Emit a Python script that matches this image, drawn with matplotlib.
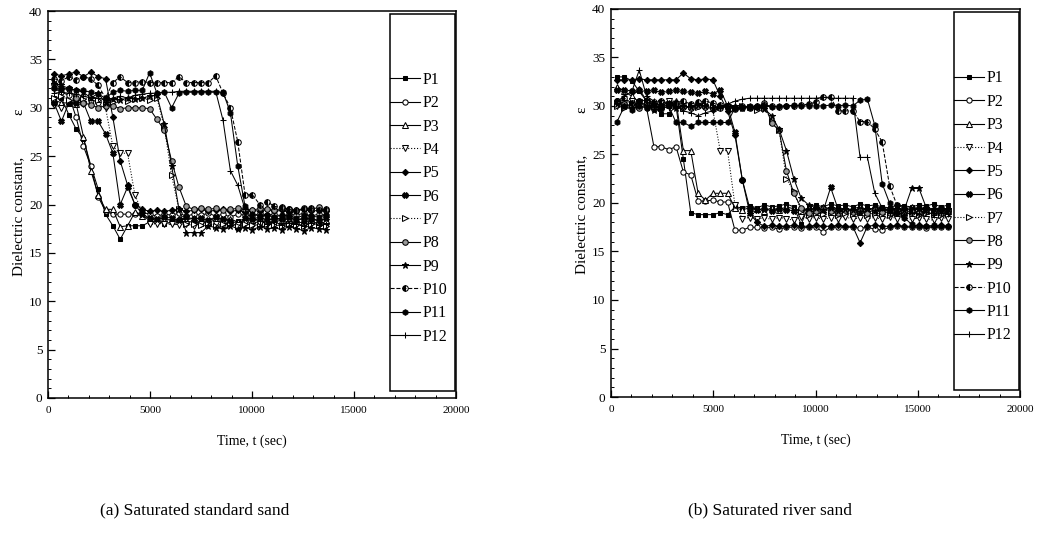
import matplotlib
matplotlib.use("Agg")
import matplotlib.pyplot as plt
from matplotlib.patches import Rectangle
from matplotlib.ticker import MultipleLocator

plt.rcParams['font.family'] = ['Liberation Serif', 'DejaVu Serif']

# ---------------- data ----------------
LABELS = ["P1", "P2", "P3", "P4", "P5", "P6", "P7", "P8", "P9", "P10", "P11", "P12"]

T_A = [300, 660, 1020, 1380, 1740, 2100, 2460, 2820, 3180, 3540,
       3900, 4260, 4620, 4980, 5340, 5700, 6060, 6420, 6780, 7140,
       7500, 7860, 8220, 8580, 8940, 9300, 9660, 10020, 10380, 10740,
       11100, 11460, 11820, 12180, 12540, 12900, 13260, 13620]

T_B = [300, 660, 1020, 1380, 1740, 2100, 2460, 2820, 3180, 3540,
       3900, 4260, 4620, 4980, 5340, 5700, 6060, 6420, 6780, 7140,
       7500, 7860, 8220, 8580, 8940, 9300, 9660, 10020, 10380, 10740,
       11100, 11460, 11820, 12180, 12540, 12900, 13260, 13620, 13980, 14340,
       14700, 15060, 15420, 15780, 16140, 16500]

# (a) Saturated standard sand
a_p1 = [31.0, 31.0, 29.3, 27.8, 26.8, 24.0, 21.6, 19.0, 17.8, 16.4,
        17.8, 17.8, 17.8, 18.2, 18.3, 18.0, 18.2, 18.4, 18.1, 18.3,
        18.0, 18.2, 18.4, 18.1, 18.0, 18.3, 18.2, 18.0, 18.3, 18.1,
        18.2, 18.4, 18.0, 18.2, 18.1, 18.3, 18.0, 18.2]
a_p2 = [32.0, 31.6, 31.3, 29.0, 26.0, 24.0, 20.8, 19.3, 19.0, 19.0,
        19.0, 19.0, 19.2, 19.0, 18.8, 19.0, 18.9, 19.1, 18.8, 19.0,
        18.9, 19.1, 18.8, 19.0, 18.7, 19.0, 18.9, 18.8, 19.1, 18.9,
        19.0, 18.8, 19.0, 18.9, 19.1, 18.8, 19.0, 18.9]
a_p3 = [30.8, 30.5, 30.5, 30.4, 27.0, 23.5, 21.0, 19.5, 19.5, 17.7,
        17.8, 19.2, 18.8, 18.5, 18.4, 18.6, 18.3, 18.5, 18.4, 18.6,
        18.5, 18.3, 18.6, 18.4, 18.5, 18.2, 18.6, 18.4, 18.5, 18.3,
        18.6, 18.4, 18.5, 18.3, 18.6, 18.4, 18.5, 18.4]
a_p4 = [30.3, 30.0, 30.5, 30.6, 30.4, 30.5, 30.3, 30.0, 26.0, 25.3,
        25.3, 21.0, 19.2, 18.0, 18.0, 18.0, 18.0, 17.9, 18.0, 17.8,
        18.0, 17.9, 18.0, 17.8, 18.0, 17.9, 18.1, 17.8, 18.0, 17.9,
        18.0, 17.8, 18.0, 17.9, 17.8, 18.0, 17.9, 17.8]
a_p5 = [33.5, 33.3, 33.5, 33.7, 33.2, 33.7, 33.2, 33.0, 29.0, 24.5,
        22.0, 20.0, 19.5, 19.3, 19.4, 19.3, 19.4, 19.5, 19.3, 19.4,
        19.5, 19.3, 19.4, 19.5, 19.3, 19.4, 19.2, 19.4, 19.3, 19.5,
        19.3, 19.4, 19.2, 19.4, 19.5, 19.3, 19.4, 19.3]
a_p6 = [30.5, 28.6, 30.5, 30.5, 30.5, 28.6, 28.6, 27.3, 25.3, 20.0,
        21.8, 20.0, 19.0, 18.6, 18.5, 18.7, 18.6, 18.4, 18.7, 18.5,
        18.6, 18.4, 18.7, 18.5, 18.3, 17.6, 18.6, 18.5, 18.7, 18.4,
        18.6, 18.5, 18.7, 18.4, 18.6, 18.5, 18.3, 18.6]
a_p7 = [31.0, 31.2, 30.8, 31.0, 30.9, 31.1, 30.8, 30.4, 30.6, 30.9,
        30.7, 30.9, 31.0, 30.8, 31.0, 28.0, 23.0, 19.5, 18.0, 18.0,
        17.9, 18.0, 17.8, 18.0, 17.9, 17.8, 18.0, 17.9, 17.8, 18.0,
        17.9, 17.8, 18.0, 17.9, 17.8, 18.0, 17.9, 17.8]
a_p8 = [32.5, 32.0, 31.9, 31.0, 30.5, 30.3, 30.0, 30.2, 30.2, 29.9,
        30.0, 30.0, 30.0, 29.9, 28.8, 27.7, 24.5, 21.8, 19.8, 19.5,
        19.6, 19.5, 19.6, 19.4, 19.5, 19.6, 19.5, 19.4, 19.6, 19.5,
        19.4, 19.6, 19.5, 19.4, 19.6, 19.5, 19.7, 19.4]
a_p9 = [32.5, 32.3, 32.0, 31.8, 31.6, 31.0, 31.5, 30.5, 30.9, 30.8,
        31.0, 30.9, 31.0, 31.2, 31.3, 28.3, 24.0, 19.5, 17.1, 17.1,
        17.1, 17.8, 17.6, 17.5, 17.8, 17.5, 17.6, 17.4, 17.7, 17.5,
        17.6, 17.4, 17.7, 17.5, 17.3, 17.6, 17.5, 17.4]
a_p10 = [33.0, 32.8, 33.2, 32.9, 33.2, 33.0, 32.3, 31.0, 32.6, 33.2,
         32.6, 32.6, 32.7, 32.6, 32.6, 32.6, 32.6, 33.2, 32.6, 32.6,
         32.6, 32.6, 33.3, 31.5, 30.0, 26.5, 21.0, 21.0, 20.0, 20.3,
         19.8, 19.7, 19.5, 19.3, 19.5, 19.6, 19.4, 19.5]
a_p11 = [32.0, 31.9, 32.0, 31.8, 31.8, 31.6, 31.4, 31.0, 31.6, 31.8,
         31.7, 31.8, 31.8, 33.6, 31.5, 31.6, 30.0, 31.5, 31.6, 31.6,
         31.6, 31.6, 31.6, 31.6, 29.5, 24.0, 19.8, 19.0, 18.8, 18.9,
         18.7, 18.9, 18.8, 18.6, 18.9, 18.8, 18.7, 18.9]
a_p12 = [31.5, 31.6, 31.5, 31.4, 31.2, 31.0, 31.0, 30.8, 31.0, 31.2,
         31.0, 31.3, 31.4, 31.5, 31.5, 31.6, 31.6, 31.7, 31.7, 31.7,
         31.7, 31.7, 31.7, 28.7, 23.5, 22.0, 19.5, 18.5, 18.3, 18.0,
         18.2, 17.9, 18.1, 18.0, 17.8, 18.1, 17.9, 18.0]

# (b) Saturated river sand
b_p1 = [33.0, 33.0, 32.6, 31.5, 30.5, 30.0, 29.2, 29.2, 30.0, 24.5,
        19.0, 18.8, 18.8, 18.8, 19.0, 18.8, 19.6, 19.5, 19.7, 19.5,
        19.8, 19.6, 19.7, 19.9, 19.6, 17.8, 19.7, 19.8, 19.6, 19.9,
        19.7, 19.8, 19.6, 19.9, 19.7, 19.8, 19.6, 19.5, 19.8, 19.7,
        19.6, 19.8, 19.7, 19.9, 19.6, 19.8]
b_p2 = [30.5, 30.2, 30.0, 30.5, 29.8, 25.8, 25.8, 25.5, 25.8, 23.2,
        22.9, 20.2, 20.2, 20.3, 20.1, 20.1, 17.2, 17.2, 17.5, 17.5,
        17.4, 17.5, 17.3, 17.5, 17.5, 17.4, 17.5, 17.5, 17.0, 17.5,
        17.5, 17.5, 17.5, 17.4, 17.5, 17.3, 17.2, 17.5, 17.6, 17.5,
        17.5, 17.5, 17.4, 17.5, 17.5, 17.5]
b_p3 = [32.0, 31.5, 31.0, 31.8, 30.5, 30.2, 30.0, 30.5, 30.5, 25.4,
        25.4, 21.0, 20.3, 21.0, 21.0, 21.0, 19.5, 19.3, 19.5, 19.4,
        19.2, 19.5, 19.3, 19.6, 19.4, 19.2, 19.5, 19.3, 19.6, 19.4,
        19.5, 19.3, 19.4, 19.6, 19.3, 19.5, 19.4, 19.2, 19.5, 19.3,
        19.6, 19.4, 19.2, 19.5, 19.4, 19.3]
b_p4 = [30.0, 30.3, 30.5, 30.4, 30.2, 30.0, 30.3, 30.5, 30.2, 30.0,
        29.8, 30.0, 29.9, 29.6, 25.4, 25.4, 19.8, 18.4, 18.5, 18.3,
        18.5, 18.3, 18.5, 18.4, 18.2, 18.6, 18.4, 18.5, 18.3, 18.5,
        18.4, 18.6, 18.3, 18.5, 18.4, 18.5, 18.3, 18.6, 18.4, 18.5,
        18.3, 18.5, 18.4, 18.2, 18.5, 18.4]
b_p5 = [32.7, 32.7, 32.7, 32.8, 32.7, 32.7, 32.7, 32.7, 32.7, 33.4,
        32.8, 32.7, 32.8, 32.7, 31.0, 29.5, 27.0, 22.4, 19.0, 18.0,
        17.6, 17.7, 17.6, 17.6, 17.7, 17.6, 17.6, 17.7, 17.6, 17.6,
        17.7, 17.6, 17.6, 15.9, 17.6, 17.7, 17.6, 17.6, 17.7, 17.6,
        17.6, 17.7, 17.6, 17.6, 17.7, 17.6]
b_p6 = [31.6, 31.7, 31.5, 31.6, 31.5, 31.6, 31.4, 31.5, 31.6, 31.5,
        31.4, 31.3, 31.5, 31.2, 31.7, 30.0, 27.3, 22.4, 19.5, 19.3,
        19.4, 19.2, 19.4, 19.3, 19.2, 19.4, 19.3, 19.5, 19.2, 21.6,
        19.4, 19.3, 19.2, 19.4, 19.3, 19.5, 19.2, 19.4, 19.3, 19.2,
        19.4, 19.3, 19.5, 19.2, 19.4, 19.3]
b_p7 = [30.0, 29.8, 30.2, 30.0, 30.5, 30.0, 29.8, 30.2, 30.0, 29.8,
        30.0, 29.9, 30.1, 30.0, 29.9, 30.0, 29.8, 30.0, 29.9, 29.6,
        29.8, 28.5, 27.5, 22.5, 21.2, 19.2, 18.8, 19.0, 18.9, 19.1,
        18.8, 19.0, 18.9, 19.1, 18.8, 19.0, 18.9, 18.8, 19.0, 18.9,
        19.1, 18.8, 19.0, 18.9, 18.8, 18.9]
b_p8 = [30.5, 30.2, 30.0, 29.8, 30.0, 29.7, 29.9, 30.2, 30.0, 29.9,
        29.8, 30.0, 29.9, 29.7, 29.8, 29.9, 29.7, 29.8, 29.8, 29.9,
        30.3, 28.2, 27.5, 23.3, 21.0, 19.5, 19.0, 19.2, 19.4, 19.2,
        19.0, 19.3, 19.1, 19.2, 19.0, 19.3, 19.1, 19.0, 19.3, 19.2,
        19.1, 19.0, 19.2, 19.3, 19.0, 19.2]
b_p9 = [30.2, 30.0, 29.8, 30.5, 30.0, 29.6, 30.1, 30.3, 29.8, 30.0,
        29.9, 30.1, 30.0, 29.8, 30.0, 29.9, 30.0, 29.8, 29.9, 30.0,
        29.7, 29.0, 27.6, 25.4, 22.5, 20.5, 19.8, 19.5, 19.3, 19.5,
        19.2, 19.4, 19.3, 19.1, 19.4, 19.2, 19.5, 19.3, 19.4, 19.3,
        21.5, 21.5, 19.5, 19.4, 19.2, 19.4]
b_p10 = [30.5, 30.8, 30.3, 30.5, 30.6, 30.4, 30.5, 30.2, 30.3, 30.5,
         30.2, 30.4, 30.5, 30.3, 30.1, 30.0, 29.8, 30.0, 29.9, 30.0,
         30.1, 30.0, 29.9, 30.0, 30.0, 30.1, 30.2, 30.4, 30.9, 30.9,
         29.5, 29.5, 29.5, 28.4, 28.4, 27.6, 26.3, 21.8, 19.8, 19.5,
         19.3, 19.5, 19.4, 19.2, 19.5, 19.3]
b_p11 = [28.4, 30.0, 29.6, 30.0, 29.8, 30.1, 29.7, 30.0, 28.3, 28.3,
         27.9, 28.3, 28.3, 28.3, 28.3, 28.3, 29.8, 29.9, 30.0, 29.9,
         30.0, 29.9, 30.0, 30.0, 30.1, 30.0, 30.0, 30.0, 30.0, 30.1,
         30.0, 30.1, 30.0, 30.6, 30.7, 28.0, 22.0, 20.0, 19.0, 18.5,
         17.8, 17.6, 17.6, 17.7, 17.6, 17.6]
b_p12 = [30.5, 31.0, 31.5, 33.7, 31.0, 30.5, 30.0, 29.8, 30.0, 29.5,
         29.3, 29.0, 29.3, 29.5, 29.8, 30.2, 30.5, 30.7, 30.8, 30.8,
         30.8, 30.8, 30.8, 30.8, 30.8, 30.8, 30.8, 30.8, 30.9, 30.8,
         30.8, 30.8, 30.8, 24.7, 24.7, 21.0, 19.5, 19.0, 19.0, 18.8,
         19.0, 18.9, 19.1, 18.8, 19.0, 18.9]

SERIES_A = [a_p1, a_p2, a_p3, a_p4, a_p5, a_p6, a_p7, a_p8, a_p9, a_p10, a_p11, a_p12]
SERIES_B = [b_p1, b_p2, b_p3, b_p4, b_p5, b_p6, b_p7, b_p8, b_p9, b_p10, b_p11, b_p12]

XLABEL = "Time, t (sec)"
YLABEL = "Dielectric constant,"
CAPTIONS = ["(a) Saturated standard sand", "(b) Saturated river sand"]

# ---------------- styles ----------------
STYLES = [
    dict(marker='s', mfc='k', ls='-', ms=3.4),
    dict(marker='o', mfc='w', ls='-', ms=3.8),
    dict(marker='^', mfc='w', ls='-', ms=4.0),
    dict(marker='v', mfc='w', ls=':', ms=4.0),
    dict(marker='D', mfc='k', ls='-', ms=3.2),
    dict(marker='X', mfc='k', ls='-', ms=4.2),
    dict(marker='>', mfc='w', ls=':', ms=4.0),
    dict(marker='o', mfc='0.6', ls='-', ms=4.0),
    dict(marker='*', mfc='k', ls='-', ms=4.8),
    dict(marker='o', mfc='k', ls='--', ms=4.0, fillstyle='left'),
    dict(marker='h', mfc='k', ls='-', ms=4.0),
    dict(marker='+', mfc='k', ls='-', ms=4.8),
]

fig = plt.figure(figsize=(10.42, 5.41), dpi=100)
W, H = 1042.0, 541.0
axes_px = [(48, 456, 11, 398), (611, 1020, 9, 397)]
series_sets = [(T_A, SERIES_A), (T_B, SERIES_B)]

for i, ((l, r, t, b), (tt, sers)) in enumerate(zip(axes_px, series_sets)):
    ax = fig.add_axes([l / W, 1 - b / H, (r - l) / W, (b - t) / H])
    for lab, ys, st in zip(LABELS, sers, STYLES):
        ax.plot(tt, ys, color='k', lw=0.75, linestyle=st['ls'], marker=st['marker'],
                markersize=st['ms'], markerfacecolor=st['mfc'], markeredgecolor='k',
                markeredgewidth=0.75, fillstyle=st.get('fillstyle', 'full'), label=lab)
    ax.set_xlim(0, 20000)
    ax.set_ylim(0, 40)
    ax.xaxis.set_major_locator(MultipleLocator(5000))
    ax.xaxis.set_minor_locator(MultipleLocator(1000))
    ax.yaxis.set_major_locator(MultipleLocator(5))
    ax.yaxis.set_minor_locator(MultipleLocator(1))
    ax.tick_params(which='both', direction='in', top=False, right=False, color='k')
    ax.tick_params(which='major', length=5, width=0.9)
    ax.tick_params(which='minor', length=2.5, width=0.7)
    ax.tick_params(axis='x', labelsize=8, pad=6)
    ax.tick_params(axis='y', labelsize=9.5, pad=4)
    for s in ax.spines.values():
        s.set_linewidth(1.1)
    # legend box
    bx0 = (390 - l) / (r - l) if i == 0 else (954 - l) / (r - l)
    ax.add_patch(Rectangle((bx0, 0.018), 0.997 - bx0, 0.975, transform=ax.transAxes,
                           fill=False, ec='k', lw=1.1, zorder=5))
    leg = ax.legend(loc='center left', bbox_to_anchor=(bx0, 0.49), frameon=False,
                    fontsize=11.5, handlelength=1.9, handletextpad=0.15,
                    borderaxespad=0.0, borderpad=0.0, labelspacing=0.46)
    for line in leg.get_lines():
        line.set_linewidth(0.8)
    ax.set_xlabel(XLABEL, fontsize=10, labelpad=14)
    ax.text(-0.072, 0.47, YLABEL, transform=ax.transAxes, rotation=90,
            ha='center', va='center', fontsize=11)
    ax.text(-0.072, 0.74, "\u03b5", transform=ax.transAxes, rotation=90,
            ha='center', va='center', fontsize=11)

fig.text(195 / W, 1 - 510 / H, CAPTIONS[0], ha='center', va='center', fontsize=12.5)
fig.text(770 / W, 1 - 510 / H, CAPTIONS[1], ha='center', va='center', fontsize=12.5)

fig.savefig("out.png", dpi=100)
